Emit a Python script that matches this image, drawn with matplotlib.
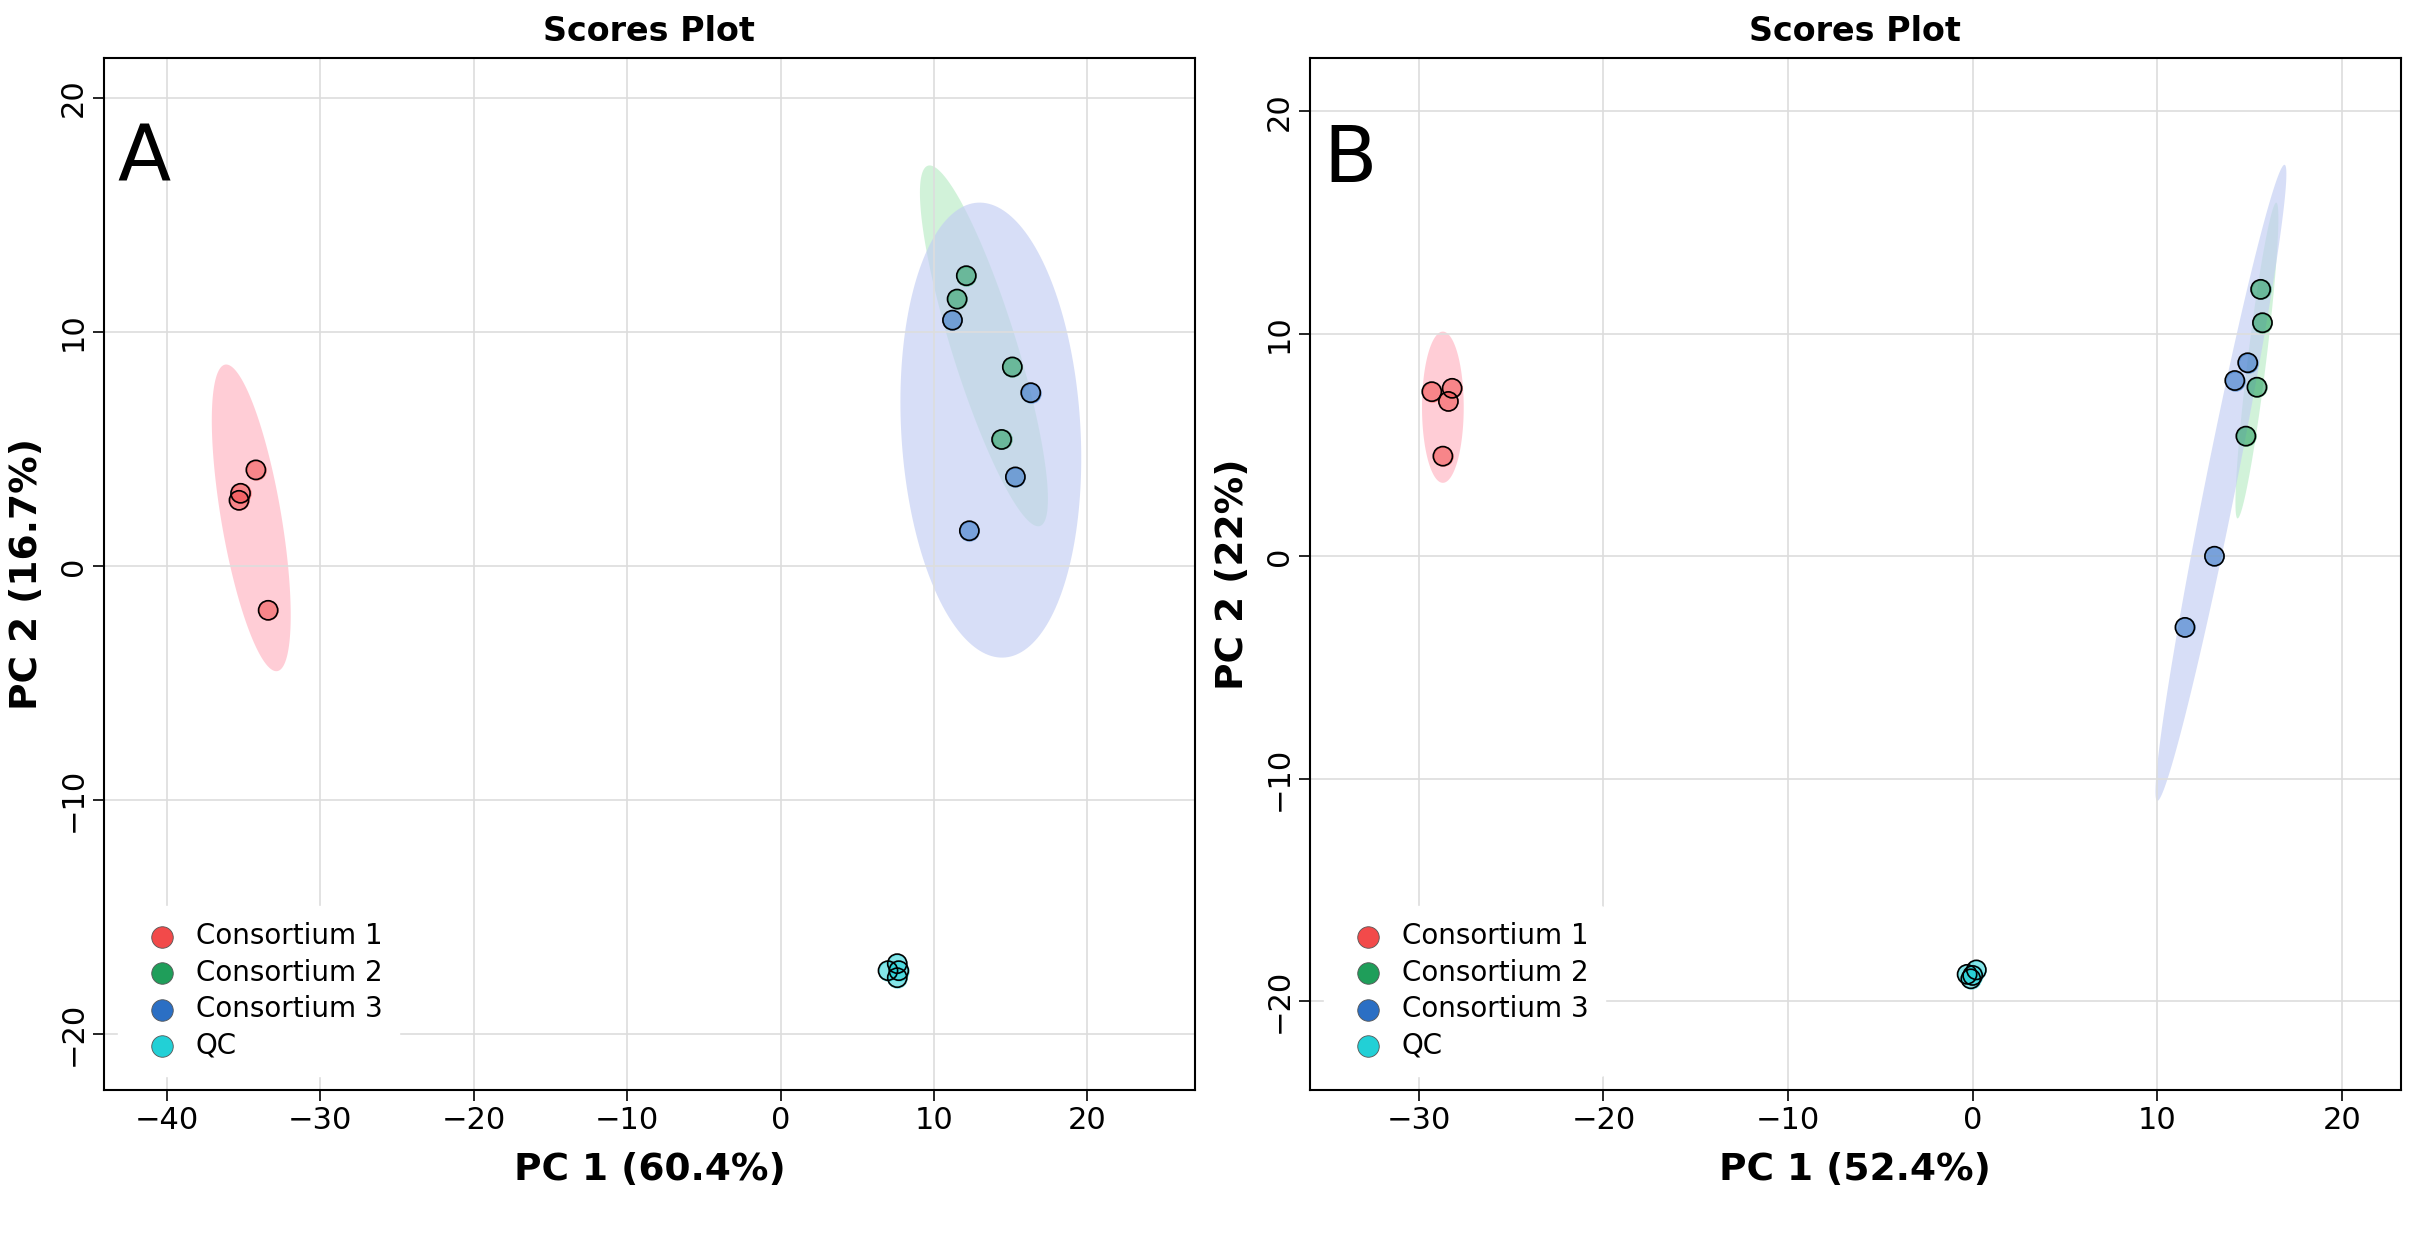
import numpy as np
import matplotlib.pyplot as plt

groups = ['Consortium 1', 'Consortium 2', 'Consortium 3', 'QC']
colors = ['#f24a4a', '#1f9e5a', '#2b6fc4', '#22d0d6']
ell_colors = ['#ffb3c1', '#b9ecc6', '#c2cdf3']

# Panel A scores
a_x = [[-34.2, -35.2, -35.3, -33.4],
       [12.1, 11.5, 15.1, 14.4],
       [11.2, 16.3, 15.3, 12.3],
       [7.6, 7.7, 7.0, 7.6]]
a_y = [[4.1, 3.1, 2.8, -1.9],
       [12.4, 11.4, 8.5, 5.4],
       [10.5, 7.4, 3.8, 1.5],
       [-17.0, -17.3, -17.3, -17.6]]
# ellipses: center, half-major vector, half-minor vector (data units)
a_ell = [((-34.5, 2.05), (-1.7, 6.55), (1.93, 0.22)),
         ((13.25, 9.4), (-3.65, 7.7), (2.02, 0.41)),
         ((13.7, 5.8), (-0.86, 9.72), (5.83, 0.22))]

# Panel B scores
b_x = [[-29.3, -28.2, -28.4, -28.7],
       [15.6, 15.7, 15.4, 14.8],
       [14.9, 14.2, 13.1, 11.5],
       [0.2, -0.3, -0.1, 0.0]]
b_y = [[7.4, 7.55, 6.96, 4.5],
       [12.0, 10.5, 7.6, 5.4],
       [8.7, 7.9, 0.0, -3.2],
       [-18.6, -18.8, -19.0, -18.85]]
b_ell = [((-28.7, 6.7), (0.0, 3.4), (1.13, 0.0)),
         ((15.4, 8.8), (1.05, 7.1), (0.5, -0.05)),
         ((13.45, 3.3), (3.45, 14.3), (0.82, -0.14))]

panels = [dict(x=a_x, y=a_y, ell=a_ell, xlim=(-44.1, 27.0), ylim=(-22.4, 21.7),
               xt=[-40, -30, -20, -10, 0, 10, 20], yt=[-20, -10, 0, 10, 20],
               xl='PC 1 (60.4%)', yl='PC 2 (16.7%)', tag='A'),
          dict(x=b_x, y=b_y, ell=b_ell, xlim=(-35.9, 23.2), ylim=(-24.0, 22.4),
               xt=[-30, -20, -10, 0, 10, 20], yt=[-20, -10, 0, 10, 20],
               xl='PC 1 (52.4%)', yl='PC 2 (22%)', tag='B')]

fig = plt.figure(figsize=(24.12, 12.43), dpi=100)
lefts = [0.0431, 0.5431]
t = np.linspace(0, 2 * np.pi, 200)
for p, left in zip(panels, lefts):
    ax = fig.add_axes([left, 0.1231, 0.4523, 0.8302])
    ax.grid(True, color='#dddddd', lw=1.2, zorder=0)
    for (c, u, v), col in zip(p['ell'], ell_colors):
        ex = c[0] + u[0] * np.cos(t) + v[0] * np.sin(t)
        ey = c[1] + u[1] * np.cos(t) + v[1] * np.sin(t)
        ax.fill(ex, ey, color=col, alpha=0.65, lw=0, zorder=1)
    for gx, gy, col in zip(p['x'], p['y'], colors):
        ax.scatter(gx, gy, s=190, color=col, alpha=0.55, zorder=3)
        ax.scatter(gx, gy, s=190, facecolors='none', edgecolors='black', lw=1.2, zorder=4)
    for g, col in zip(groups, colors):
        ax.scatter([], [], s=240, color=col, edgecolors='#555555', lw=0.6, label=g)
    ax.legend(loc='lower left', frameon=True, framealpha=1, edgecolor='white',
              fontsize=20, handletextpad=0.2, labelspacing=0.3, borderpad=0.6)
    ax.set_xlim(p['xlim'])
    ax.set_ylim(p['ylim'])
    ax.set_xticks(p['xt'])
    ax.set_yticks(p['yt'])
    ax.tick_params(labelsize=22, length=8, width=1.2)
    for lab in ax.get_yticklabels():
        lab.set_rotation(90)
        lab.set_va('center')
    for s in ax.spines.values():
        s.set_linewidth(1.5)
    ax.set_xlabel(p['xl'], fontsize=27, fontweight='bold', labelpad=12)
    ax.set_ylabel(p['yl'], fontsize=27, fontweight='bold', labelpad=10)
    ax.set_title('Scores Plot', fontsize=24, fontweight='bold', pad=12)
    ax.text(0.012, 0.88, p['tag'], transform=ax.transAxes, fontsize=56)

plt.savefig('out.png', dpi=100)
